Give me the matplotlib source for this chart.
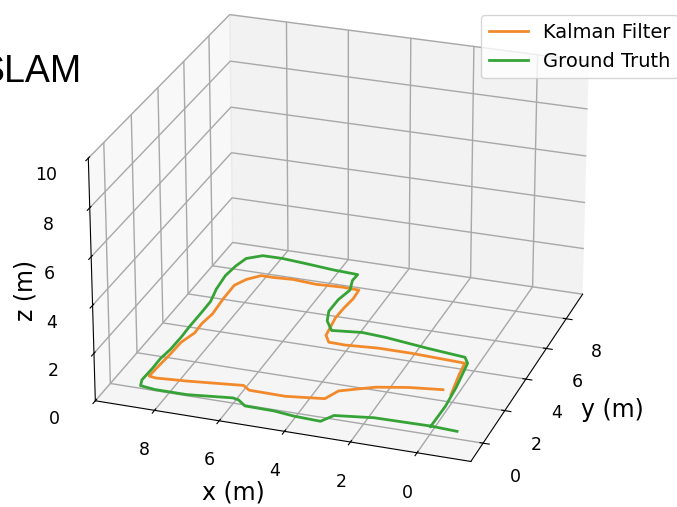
import matplotlib
matplotlib.use("Agg")
import matplotlib.pyplot as plt

# ground truth trajectory (m)
gt_x = [-0.68, 0.13, 1.84, 2.98, 3.23, 4.06, 4.71, 5.62, 5.93, 6.13, 7.48, 8.47, 8.96, 9.06,
        9.04, 9.05, 8.99, 8.98, 9.00, 9.00, 9.01, 9.15, 9.22, 9.16, 9.04, 8.62, 7.98, 7.21,
        6.19, 5.37, 5.39, 5.24, 5.36, 5.37, 5.20, 4.86, 3.94, 3.17, 1.74, 0.52, 0.33, 0.18,
        0.11, 0.13]
gt_y = [0.42, 0.48, 0.44, 0.21, -0.23, -0.18, -0.07, -0.05, 0.23, 0.29, 0.06, 0.06, 0.15, 0.49,
        1.24, 1.87, 2.52, 3.35, 3.99, 5.10, 5.75, 6.58, 7.50, 8.20, 8.79, 9.13, 9.14, 9.04,
        8.89, 8.82, 8.40, 7.77, 7.06, 6.26, 5.65, 5.11, 5.27, 5.19, 4.92, 4.73, 4.40, 2.93,
        1.71, 0.45]

# kalman filter estimate (m)
kf_x = [0.50, 1.49, 2.41, 3.36, 3.58, 4.72, 5.85, 6.11, 7.76, 8.72, 8.95, 8.93, 8.88, 8.86,
        8.70, 8.72, 8.65, 8.71, 8.72, 8.51, 8.17, 7.75, 7.14, 6.37, 5.53, 4.98, 4.95, 5.01,
        5.03, 4.91, 4.68, 4.15, 3.16, 2.13, 0.41, 0.34, 0.18]
kf_y = [2.64, 2.46, 2.18, 1.63, 1.07, 0.85, 0.87, 1.09, 0.83, 0.72, 0.77, 1.28, 2.24, 3.01,
        3.70, 4.34, 5.01, 6.05, 6.98, 7.46, 7.84, 7.84, 7.90, 7.81, 7.88, 7.85, 7.26, 6.57,
        5.90, 4.77, 4.38, 4.36, 4.48, 4.48, 4.38, 3.63, 2.43]

gt_z = [0.0] * len(gt_x)
kf_z = [0.0] * len(kf_x)

plt.rcParams['grid.color'] = '#a8a8a8'
plt.rcParams['grid.linewidth'] = 1.0

fig = plt.figure(figsize=(6.77, 5.07), dpi=100)
ax = fig.add_axes([0.0, 0.035, 1.0, 1.0], projection='3d')

ax.plot(kf_x, kf_y, kf_z, color='#f28a2c', lw=2, label='Kalman Filter')
ax.plot(gt_x, gt_y, gt_z, color='#36a336', lw=2, label='Ground Truth')

ax.set_xlim(9.85, -1.6)
ax.set_ylim(-1.1, 9.7)
ax.set_zlim(0, 10)
ax.set_xticks([0, 2, 4, 6, 8])
ax.set_yticks([0, 2, 4, 6, 8])
ax.set_zticks([0, 2, 4, 6, 8, 10])
ax.tick_params(labelsize=12.5)
ax.tick_params(axis='x', pad=6)
ax.tick_params(axis='y', pad=8)
ax.tick_params(axis='z', pad=7)
ax.zaxis.set_ticks_position('lower')
ax.set_proj_type('persp', focal_length=1.5)
ax.set_box_aspect((4, 4, 2.7), zoom=1.165)
ax.view_init(elev=25, azim=-71)

# axis labels kept upright like the original
ax.text2D(0.344, 0.028, 'x (m)', transform=fig.transFigure, ha='center', va='center', fontsize=17)
ax.text2D(0.904, 0.191, 'y (m)', transform=fig.transFigure, ha='center', va='center', fontsize=17)
ax.text2D(0.037, 0.428, 'z (m)', transform=fig.transFigure, ha='center', va='center',
          fontsize=17, rotation=90)

fig.legend(loc='upper right', bbox_to_anchor=(1.002, 0.97), fontsize=14, borderaxespad=0)
fig.text(0.121, 0.838, 'SLAM', ha='right', va='baseline', fontsize=27, family='Liberation Sans')

fig.savefig('out.png', dpi=100)
